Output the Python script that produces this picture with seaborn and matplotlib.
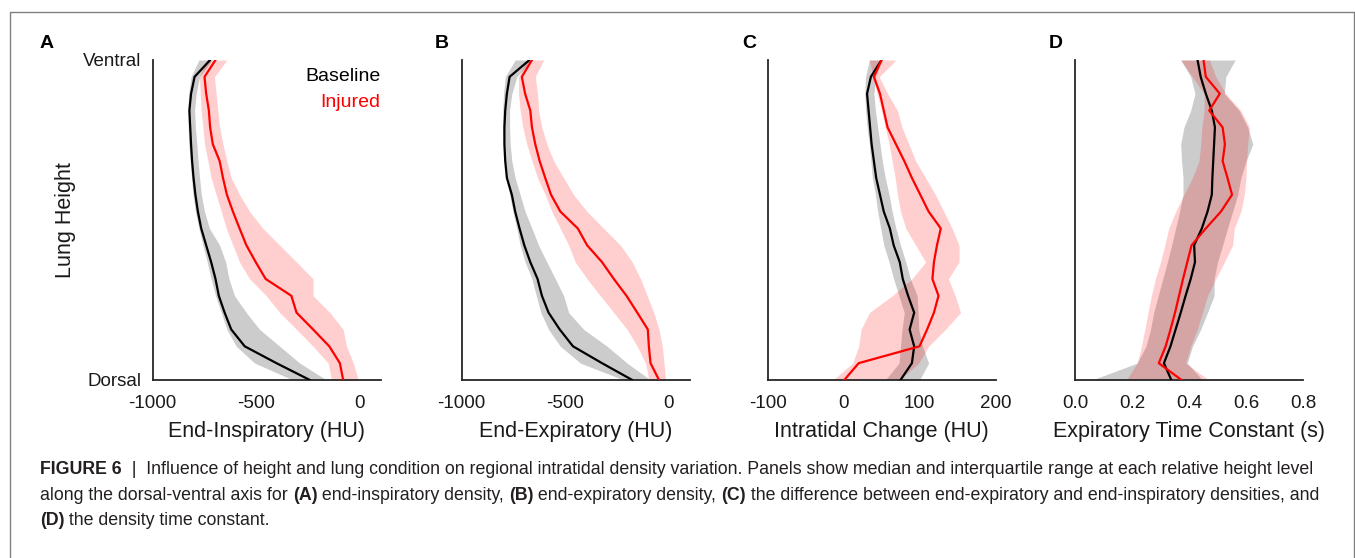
import numpy as np
import pandas as pd
import matplotlib
matplotlib.use("Agg")
import matplotlib.pyplot as plt
import seaborn as sns
from matplotlib.lines import Line2D

# ---------------- data (listed from Ventral (top) to Dorsal (bottom)) ----------------
height = list(range(20, 0, -1))

insp_base_med = [-723, -798, -815, -823, -819, -815, -810, -803, -794, -782, -766, -742, -718, -697, -681, -653, -621, -556, -403, -242]
insp_base_q1 = [-777, -815, -826, -831, -829, -826, -819, -813, -806, -794, -777, -758, -737, -718, -697, -669, -642, -597, -508, -323]
insp_base_q3 = [-713, -774, -790, -798, -794, -787, -781, -774, -765, -750, -726, -677, -648, -632, -605, -548, -484, -387, -290, -161]
insp_inj_med = [-697, -750, -742, -729, -723, -710, -677, -661, -642, -613, -581, -548, -503, -455, -331, -306, -226, -148, -97, -81]
insp_inj_q1 = [-742, -774, -771, -766, -758, -750, -734, -718, -694, -669, -645, -613, -581, -532, -452, -387, -306, -226, -153, -137]
insp_inj_q3 = [-642, -702, -694, -686, -677, -661, -642, -621, -581, -532, -468, -387, -306, -226, -226, -145, -81, -65, -32, -8]

exp_base_med = [-673, -769, -782, -790, -794, -794, -790, -782, -758, -742, -721, -698, -669, -634, -613, -581, -527, -463, -323, -177]
exp_base_q1 = [-742, -790, -798, -802, -802, -798, -794, -785, -769, -753, -734, -718, -694, -661, -640, -618, -581, -524, -427, -218]
exp_base_q3 = [-661, -734, -758, -769, -769, -766, -758, -742, -718, -694, -661, -629, -589, -548, -508, -484, -411, -298, -202, -89]
exp_inj_med = [-661, -710, -694, -669, -661, -645, -624, -597, -569, -524, -440, -395, -323, -266, -205, -153, -102, -97, -89, -48]
exp_inj_q1 = [-686, -726, -726, -718, -705, -686, -661, -634, -597, -565, -524, -484, -452, -395, -331, -266, -202, -153, -113, -97]
exp_inj_q3 = [-605, -645, -634, -629, -613, -589, -556, -508, -460, -395, -315, -234, -177, -137, -105, -73, -48, -32, -24, -16]

chg_base_med = [50, 36, 31, 33, 35, 37, 40, 43, 48, 53, 61, 66, 74, 78, 85, 93, 87, 93, 90, 75]
chg_base_q1 = [34, 29, 28, 29, 31, 34, 36, 38, 42, 45, 49, 53, 60, 66, 73, 80, 77, 75, 73, 55]
chg_base_q3 = [51, 42, 40, 42, 45, 48, 51, 55, 60, 64, 69, 75, 82, 88, 97, 98, 99, 104, 112, 100]
chg_inj_med = [50, 40, 48, 53, 58, 69, 80, 90, 101, 112, 128, 123, 119, 117, 125, 119, 110, 100, 20, 1]
chg_inj_q1 = [34, 39, 44, 50, 55, 60, 64, 68, 71, 75, 82, 95, 108, 90, 64, 34, 23, 20, 12, -14]
chg_inj_q3 = [69, 47, 58, 71, 77, 86, 95, 108, 121, 132, 143, 152, 152, 138, 147, 154, 134, 112, 99, 73]

tau_base_med = [0.43, 0.441, 0.459, 0.480, 0.491, 0.488, 0.485, 0.482, 0.480, 0.465, 0.445, 0.418, 0.421, 0.406, 0.388, 0.371, 0.353, 0.335, 0.312, 0.338]
tau_base_q1 = [0.371, 0.406, 0.421, 0.406, 0.382, 0.371, 0.374, 0.379, 0.379, 0.367, 0.353, 0.339, 0.324, 0.308, 0.292, 0.276, 0.265, 0.249, 0.218, 0.06]
tau_base_q3 = [0.562, 0.529, 0.524, 0.576, 0.606, 0.624, 0.600, 0.582, 0.571, 0.553, 0.535, 0.518, 0.500, 0.488, 0.488, 0.465, 0.441, 0.412, 0.394, 0.447]
tau_inj_med = [0.451, 0.459, 0.508, 0.471, 0.518, 0.526, 0.518, 0.535, 0.551, 0.512, 0.459, 0.409, 0.394, 0.379, 0.365, 0.351, 0.335, 0.318, 0.294, 0.374]
tau_inj_q1 = [0.371, 0.412, 0.453, 0.453, 0.445, 0.441, 0.435, 0.412, 0.382, 0.353, 0.329, 0.315, 0.300, 0.282, 0.268, 0.256, 0.245, 0.233, 0.218, 0.18]
tau_inj_q3 = [0.472, 0.494, 0.529, 0.582, 0.612, 0.606, 0.602, 0.600, 0.594, 0.582, 0.559, 0.553, 0.524, 0.494, 0.465, 0.447, 0.429, 0.406, 0.388, 0.47]

panel_letters = ["A", "B", "C", "D"]
x_labels = ["End-Inspiratory (HU)", "End-Expiratory (HU)", "Intratidal Change (HU)", "Expiratory Time Constant (s)"]
x_ticks = [[-1000, -500, 0], [-1000, -500, 0], [-100, 0, 100, 200], [0.0, 0.2, 0.4, 0.6, 0.8]]
x_ticklabels = [["-1000", "-500", "0"], ["-1000", "-500", "0"], ["-100", "0", "100", "200"],
                ["0.0", "0.2", "0.4", "0.6", "0.8"]]
x_limits = [(-1000, 100), (-1000, 100), (-100, 200), (0, 0.8)]
conditions = ["Baseline", "Injured"]
y_ticklabels = ["Dorsal", "Ventral"]

series = {
    "A": {"Baseline": (insp_base_med, insp_base_q1, insp_base_q3), "Injured": (insp_inj_med, insp_inj_q1, insp_inj_q3)},
    "B": {"Baseline": (exp_base_med, exp_base_q1, exp_base_q3), "Injured": (exp_inj_med, exp_inj_q1, exp_inj_q3)},
    "C": {"Baseline": (chg_base_med, chg_base_q1, chg_base_q3), "Injured": (chg_inj_med, chg_inj_q1, chg_inj_q3)},
    "D": {"Baseline": (tau_base_med, tau_base_q1, tau_base_q3), "Injured": (tau_inj_med, tau_inj_q1, tau_inj_q3)},
}
rows = []
for p in panel_letters:
    for c in conditions:
        med, q1, q3 = series[p][c]
        for h, m, a, b in zip(height, med, q1, q3):
            rows.append(dict(panel=p, condition=c, height=h, median=m, q1=a, q3=b))
df = pd.DataFrame(rows)

# ---------------- style ----------------
sns.set_theme(style="white")
plt.rcParams["font.family"] = ["Liberation Sans", "DejaVu Sans"]
line_colors = {"Baseline": "#000000", "Injured": "#ff0000"}
band_alpha = {"Baseline": 0.2, "Injured": 0.19}
spine_color = "#262626"

W, H = 1355, 558
fig = plt.figure(figsize=(W / 100, H / 100), dpi=100)
fig.patch.set_facecolor("white")

lefts = [152.7, 461.7, 767.5, 1075.0]
ax_w = 228
top_px, bot_px = 60, 380
letter_x = [40, 435, 742, 1049]

axes = []
for i, p in enumerate(panel_letters):
    ax = fig.add_axes([lefts[i] / W, 1 - bot_px / H, ax_w / W, (bot_px - top_px) / H])
    axes.append(ax)
    sub = df[df.panel == p]
    for c in conditions:
        s = sub[sub.condition == c]
        ax.fill_betweenx(s["height"], s["q1"], s["q3"], color=line_colors[c],
                         alpha=band_alpha[c], lw=0, zorder=1)
    sns.lineplot(data=sub, x="median", y="height", hue="condition", hue_order=conditions,
                 palette=line_colors, orient="y", estimator=None, legend=False,
                 lw=1.6, ax=ax, zorder=3)
    ax.set_xlim(*x_limits[i])
    ax.set_ylim(1, 20)
    ax.set_xticks(x_ticks[i])
    ax.set_xticklabels(x_ticklabels[i])
    ax.set_yticks([1, 20])
    if i == 0:
        ax.set_yticklabels(y_ticklabels)
    else:
        ax.set_yticklabels([])
    ax.set_ylabel("")
    ax.set_xlabel(x_labels[i], fontsize=15.5, color="#1a1a1a")
    ax.xaxis.set_label_coords(0.5, -0.129)
    ax.xaxis.label.set_va("top")
    for side in ["top", "right"]:
        ax.spines[side].set_visible(False)
    for side in ["left", "bottom"]:
        ax.spines[side].set_color(spine_color)
        ax.spines[side].set_linewidth(1.3)
    ax.tick_params(axis="both", direction="out", length=4, width=1.1, color=spine_color,
                   labelsize=13.5, labelcolor="#1a1a1a")
    ax.tick_params(axis="x", pad=6.5)
    ax.tick_params(axis="y", pad=4)
    ax.set_facecolor("white")
    fig.text(letter_x[i] / W, 1 - 47.7 / H, p, fontsize=14, fontweight="bold",
             ha="left", va="baseline", color="black")

# legend as coloured text
axes[0].text(1.0, 0.933, "Baseline", color="black", fontsize=14, ha="right", va="baseline",
             transform=axes[0].transAxes)
axes[0].text(1.0, 0.854, "Injured", color="red", fontsize=14, ha="right", va="baseline",
             transform=axes[0].transAxes)

fig.text(65 / W, 1 - 220 / H, "Lung Height", rotation=90, ha="center", va="center",
         fontsize=15.5, color="#1a1a1a")

# frame around the figure (top, left, right)
x0, x1, yt = 9.5 / W, 1353.5 / W, 1 - 11.5 / H
fig.add_artist(Line2D([x0, x0, x1, x1], [0, yt, yt, 0], transform=fig.transFigure,
                      color="#808080", lw=1.0))

# ---------------- caption with bold segments ----------------
caption_lines = [
    [("FIGURE 6", "bold"), ("  |  Influence of height and lung condition on regional intratidal density variation. "
                            "Panels show median and interquartile range at each relative height level", "normal")],
    [("along the dorsal-ventral axis for ", "normal"), ("(A)", "bold"), (" end-inspiratory density, ", "normal"),
     ("(B)", "bold"), (" end-expiratory density, ", "normal"), ("(C)", "bold"),
     (" the difference between end-expiratory and end-inspiratory densities, and", "normal")],
    [("(D)", "bold"), (" the density time constant.", "normal")],
]
caption_y = [474, 500, 525]
cap_x0 = 40

fig.canvas.draw()
renderer = fig.canvas.get_renderer()


def seg_width(text, weight, size):
    t1 = fig.text(0, 0, text + "|", fontsize=size, fontweight=weight)
    t2 = fig.text(0, 0, "|", fontsize=size, fontweight=weight)
    w = t1.get_window_extent(renderer).width - t2.get_window_extent(renderer).width
    t1.remove()
    t2.remove()
    return w


base = 10.0
w_line1 = sum(seg_width(t, wt, base) for t, wt in caption_lines[0])
cap_size = base * (1318 - cap_x0) / w_line1

for line, yb in zip(caption_lines, caption_y):
    x = cap_x0
    for text, weight in line:
        fig.text(x / W, 1 - yb / H, text, fontsize=cap_size, fontweight=weight,
                 ha="left", va="baseline", color="#231f20")
        x += seg_width(text, weight, cap_size)

fig.savefig("out.png", dpi=100)
